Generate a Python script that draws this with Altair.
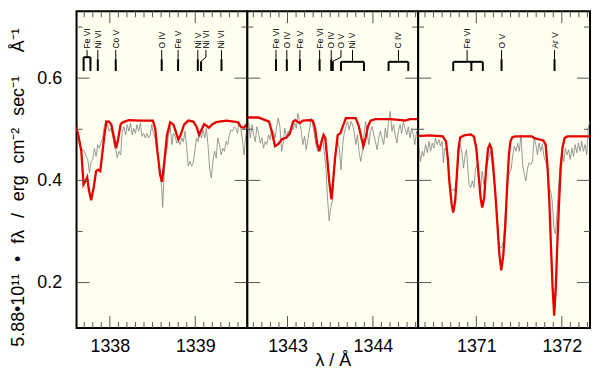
import math
import altair as alt
import pandas as pd

FONT = "Liberation Sans"
BG = "#FFFFF0"
RED = "#E60000"
GRAY = "#808080"
TICKC = "#555555"

Y_DOMAIN = [0.111, 0.731]
H = 319

# ---------------- observed spectrum (grey) ----------------
OBS1_WAVE = [1337.608, 1337.646, 1337.672, 1337.704, 1337.723, 1337.742, 1337.761, 1337.781, 1337.799, 1337.819,
             1337.839, 1337.857, 1337.877, 1337.896, 1337.915, 1337.934, 1337.954, 1337.972, 1337.992, 1338.012,
             1338.030, 1338.050, 1338.069, 1338.088, 1338.107, 1338.127, 1338.145, 1338.165, 1338.185, 1338.203,
             1338.223, 1338.242, 1338.261, 1338.280, 1338.300, 1338.318, 1338.338, 1338.358, 1338.376, 1338.396,
             1338.415, 1338.434, 1338.453, 1338.473, 1338.491, 1338.511, 1338.531, 1338.549, 1338.569, 1338.588,
             1338.607, 1338.618, 1338.630, 1338.649, 1338.669, 1338.687, 1338.707, 1338.727, 1338.745, 1338.765,
             1338.784, 1338.803, 1338.822, 1338.842, 1338.860, 1338.880, 1338.900, 1338.918, 1338.938, 1338.957,
             1338.976, 1338.995, 1339.015, 1339.033, 1339.053, 1339.073, 1339.091, 1339.111, 1339.130, 1339.149,
             1339.168, 1339.188, 1339.206, 1339.226, 1339.246, 1339.264, 1339.284, 1339.303, 1339.322, 1339.341,
             1339.361, 1339.379, 1339.399, 1339.419, 1339.437, 1339.457, 1339.476, 1339.495, 1339.514, 1339.534,
             1339.552, 1339.572, 1339.592, 1339.610]
OBS1_FLUX = [0.502, 0.470, 0.460, 0.457, 0.447, 0.441, 0.415, 0.437, 0.441, 0.463,
             0.447, 0.470, 0.463, 0.473, 0.483, 0.505, 0.518, 0.509, 0.496, 0.502,
             0.489, 0.470, 0.460, 0.444, 0.457, 0.450, 0.496, 0.505, 0.489, 0.509,
             0.496, 0.512, 0.489, 0.502, 0.492, 0.509, 0.496, 0.512, 0.486, 0.492,
             0.483, 0.492, 0.483, 0.489, 0.509, 0.492, 0.483, 0.457, 0.441, 0.412,
             0.386, 0.347, 0.392, 0.444, 0.463, 0.489, 0.505, 0.470, 0.492, 0.486,
             0.473, 0.476, 0.470, 0.483, 0.476, 0.496, 0.463, 0.428, 0.437, 0.428,
             0.434, 0.457, 0.483, 0.476, 0.496, 0.483, 0.499, 0.483, 0.502, 0.470,
             0.424, 0.405, 0.437, 0.457, 0.444, 0.483, 0.470, 0.450, 0.463, 0.457,
             0.476, 0.470, 0.489, 0.499, 0.496, 0.505, 0.502, 0.492, 0.515, 0.502,
             0.480, 0.450, 0.489, 0.502]

OBS2_WAVE = [1342.530, 1342.546, 1342.565, 1342.585, 1342.603, 1342.623, 1342.642, 1342.661, 1342.681, 1342.700,
             1342.719, 1342.738, 1342.758, 1342.776, 1342.796, 1342.815, 1342.834, 1342.854, 1342.873, 1342.892,
             1342.911, 1342.931, 1342.949, 1342.969, 1342.988, 1343.007, 1343.027, 1343.046, 1343.065, 1343.084,
             1343.104, 1343.122, 1343.142, 1343.161, 1343.180, 1343.200, 1343.219, 1343.238, 1343.257, 1343.277,
             1343.295, 1343.315, 1343.334, 1343.353, 1343.373, 1343.392, 1343.411, 1343.430, 1343.450, 1343.468,
             1343.488, 1343.507, 1343.526, 1343.542, 1343.569, 1343.588, 1343.607, 1343.626, 1343.646, 1343.664,
             1343.684, 1343.704, 1343.722, 1343.742, 1343.761, 1343.780, 1343.799, 1343.819, 1343.837, 1343.857,
             1343.877, 1343.895, 1343.915, 1343.934, 1343.953, 1343.972, 1343.992, 1344.010, 1344.030, 1344.050,
             1344.068, 1344.088, 1344.107, 1344.126, 1344.145, 1344.165, 1344.183, 1344.203, 1344.223, 1344.241,
             1344.261, 1344.280, 1344.299, 1344.318, 1344.338, 1344.356, 1344.376, 1344.396, 1344.414, 1344.434,
             1344.453, 1344.472, 1344.491, 1344.511, 1344.529]
OBS2_FLUX = [0.499, 0.512, 0.483, 0.509, 0.489, 0.476, 0.505, 0.492, 0.473, 0.483,
             0.463, 0.476, 0.470, 0.489, 0.480, 0.499, 0.496, 0.483, 0.505, 0.522,
             0.505, 0.457, 0.473, 0.502, 0.483, 0.496, 0.489, 0.505, 0.499, 0.512,
             0.502, 0.531, 0.515, 0.496, 0.470, 0.486, 0.460, 0.480, 0.499, 0.522,
             0.509, 0.489, 0.470, 0.457, 0.463, 0.476, 0.486, 0.457, 0.424, 0.366,
             0.321, 0.347, 0.360, 0.405, 0.457, 0.476, 0.463, 0.421, 0.470, 0.492,
             0.505, 0.515, 0.499, 0.515, 0.509, 0.496, 0.470, 0.489, 0.457, 0.437,
             0.457, 0.489, 0.515, 0.492, 0.470, 0.496, 0.505, 0.489, 0.476, 0.460,
             0.483, 0.496, 0.483, 0.470, 0.502, 0.483, 0.515, 0.535, 0.496, 0.509,
             0.489, 0.473, 0.496, 0.509, 0.492, 0.515, 0.502, 0.489, 0.505, 0.483,
             0.502, 0.489, 0.470, 0.496, 0.489]

OBS3_WAVE = [1370.331, 1370.346, 1370.369, 1370.384, 1370.407, 1370.427, 1370.446, 1370.465, 1370.484, 1370.504,
             1370.522, 1370.542, 1370.562, 1370.580, 1370.600, 1370.615, 1370.631, 1370.654, 1370.672, 1370.696,
             1370.723, 1370.746, 1370.769, 1370.792, 1370.811, 1370.830, 1370.850, 1370.869, 1370.885, 1370.900,
             1370.915, 1370.934, 1370.954, 1370.972, 1370.992, 1371.012, 1371.030, 1371.050, 1371.069, 1371.088,
             1371.107, 1371.127, 1371.145, 1371.165, 1371.185, 1371.203, 1371.223, 1371.242, 1371.261, 1371.280,
             1371.300, 1371.318, 1371.349, 1371.381, 1371.407, 1371.427, 1371.445, 1371.465, 1371.484, 1371.503,
             1371.522, 1371.542, 1371.561, 1371.580, 1371.600, 1371.618, 1371.638, 1371.657, 1371.676, 1371.696,
             1371.715, 1371.734, 1371.753, 1371.773, 1371.791, 1371.811, 1371.830, 1371.849, 1371.869, 1371.888,
             1371.907, 1371.926, 1371.946, 1371.964, 1371.984, 1372.003, 1372.022, 1372.042, 1372.061, 1372.080,
             1372.099, 1372.119, 1372.137, 1372.157, 1372.176, 1372.195, 1372.215, 1372.234, 1372.253, 1372.272,
             1372.292, 1372.310, 1372.326]
OBS3_FLUX = [0.463, 0.437, 0.457, 0.447, 0.470, 0.454, 0.476, 0.457, 0.473, 0.463,
             0.483, 0.470, 0.480, 0.467, 0.476, 0.434, 0.463, 0.457, 0.424, 0.379,
             0.383, 0.379, 0.405, 0.450, 0.470, 0.457, 0.424, 0.450, 0.460, 0.424,
             0.392, 0.386, 0.399, 0.386, 0.424, 0.431, 0.399, 0.386, 0.418, 0.392,
             0.405, 0.431, 0.444, 0.457, 0.431, 0.405, 0.379, 0.327, 0.282, 0.269,
             0.269, 0.282, 0.360, 0.412, 0.421, 0.450, 0.467, 0.457, 0.473, 0.457,
             0.489, 0.431, 0.412, 0.399, 0.424, 0.434, 0.431, 0.437, 0.483, 0.470,
             0.450, 0.473, 0.457, 0.470, 0.447, 0.437, 0.424, 0.386, 0.379, 0.360,
             0.308, 0.295, 0.340, 0.392, 0.437, 0.457, 0.437, 0.463, 0.450, 0.460,
             0.441, 0.463, 0.447, 0.470, 0.454, 0.473, 0.457, 0.476, 0.457, 0.470,
             0.450, 0.502, 0.515]

# ---------------- model spectrum (red) ----------------
MOD1_WAVE = [1337.608, 1337.635, 1337.666, 1337.692, 1337.715, 1337.735, 1337.753, 1337.781, 1337.811, 1337.839,
             1337.865, 1337.888, 1337.915, 1337.942, 1337.961, 1337.992, 1338.018, 1338.050, 1338.073, 1338.096,
             1338.127, 1338.157, 1338.223, 1338.358, 1338.503, 1338.531, 1338.557, 1338.588, 1338.611, 1338.638,
             1338.669, 1338.707, 1338.745, 1338.784, 1338.803, 1338.830, 1338.869, 1338.918, 1338.976, 1339.015,
             1339.045, 1339.073, 1339.103, 1339.130, 1339.160, 1339.200, 1339.246, 1339.361, 1339.495, 1339.534,
             1339.572, 1339.599, 1339.610]
MOD1_FLUX = [0.505, 0.485, 0.457, 0.392, 0.399, 0.406, 0.383, 0.361, 0.386, 0.418,
             0.421, 0.418, 0.457, 0.496, 0.515, 0.515, 0.509, 0.483, 0.463, 0.480,
             0.510, 0.514, 0.518, 0.517, 0.517, 0.502, 0.457, 0.412, 0.397, 0.437,
             0.489, 0.514, 0.509, 0.489, 0.480, 0.489, 0.509, 0.517, 0.515, 0.505,
             0.489, 0.499, 0.510, 0.507, 0.503, 0.510, 0.514, 0.517, 0.514, 0.505,
             0.503, 0.509, 0.510]

MOD2_WAVE = [1342.530, 1342.661, 1342.738, 1342.784, 1342.815, 1342.854, 1342.892, 1342.931, 1342.988, 1343.027,
             1343.065, 1343.092, 1343.142, 1343.180, 1343.257, 1343.295, 1343.323, 1343.346, 1343.373, 1343.399,
             1343.422, 1343.442, 1343.468, 1343.488, 1343.514, 1343.531, 1343.557, 1343.588, 1343.618, 1343.646,
             1343.684, 1343.799, 1343.837, 1343.865, 1343.888, 1343.915, 1343.941, 1343.972, 1344.030, 1344.203,
             1344.338, 1344.376, 1344.434, 1344.530]
MOD2_FLUX = [0.523, 0.523, 0.518, 0.515, 0.496, 0.467, 0.471, 0.480, 0.484, 0.492,
             0.515, 0.518, 0.512, 0.517, 0.518, 0.517, 0.502, 0.473, 0.457, 0.476,
             0.489, 0.483, 0.437, 0.399, 0.363, 0.392, 0.444, 0.489, 0.492, 0.505,
             0.522, 0.522, 0.505, 0.483, 0.467, 0.483, 0.505, 0.517, 0.520, 0.520,
             0.518, 0.517, 0.520, 0.520]

MOD3_WAVE = [1370.320, 1370.358, 1370.453, 1370.608, 1370.646, 1370.666, 1370.684, 1370.712, 1370.730, 1370.753,
             1370.773, 1370.792, 1370.811, 1370.857, 1370.934, 1370.972, 1371.000, 1371.023, 1371.050, 1371.069,
             1371.092, 1371.115, 1371.138, 1371.157, 1371.176, 1371.196, 1371.223, 1371.249, 1371.269, 1371.292,
             1371.315, 1371.338, 1371.361, 1371.381, 1371.399, 1371.419, 1371.457, 1371.649, 1371.687, 1371.784,
             1371.811, 1371.834, 1371.854, 1371.872, 1371.892, 1371.911, 1371.930, 1371.949, 1371.969, 1371.987,
             1372.007, 1372.033, 1372.065, 1372.330]
MOD3_FLUX = [0.487, 0.487, 0.488, 0.486, 0.476, 0.444, 0.399, 0.353, 0.337, 0.360,
             0.412, 0.463, 0.484, 0.488, 0.490, 0.486, 0.463, 0.418, 0.366, 0.347,
             0.366, 0.424, 0.463, 0.470, 0.463, 0.431, 0.373, 0.308, 0.256, 0.224,
             0.252, 0.308, 0.390, 0.450, 0.476, 0.484, 0.486, 0.486, 0.482, 0.478,
             0.470, 0.424, 0.360, 0.276, 0.191, 0.135, 0.191, 0.282, 0.360, 0.424,
             0.463, 0.483, 0.486, 0.486]

# ---------------- line identifications ----------------
P1_IDS = [
    {"label": "Fe VI", "at": 1337.733, "kind": "bracket", "legs": [1337.693, 1337.773], "bar": 0.641},
    {"label": "Ni VI", "at": 1337.859, "kind": "single"},
    {"label": "Co V", "at": 1338.069, "kind": "single"},
    {"label": "O IV", "at": 1338.607, "kind": "single"},
    {"label": "Fe V", "at": 1338.799, "kind": "single"},
    {"label": "Ni V", "at": 1339.030, "kind": "single"},
    {"label": "Ni VI", "at": 1339.125, "kind": "diag", "line": 1339.068},
    {"label": "Ni VI", "at": 1339.307, "kind": "single"},
]
P2_IDS = [
    {"label": "Fe VI", "at": 1342.865, "kind": "single"},
    {"label": "O IV", "at": 1342.992, "kind": "single"},
    {"label": "Fe V", "at": 1343.145, "kind": "single"},
    {"label": "Fe VI", "at": 1343.376, "kind": "single"},
    {"label": "O IV", "at": 1343.512, "kind": "single"},
    {"label": "O V", "at": 1343.626, "kind": "diag", "line": 1343.530},
    {"label": "Ni V", "at": 1343.761, "kind": "bracket", "legs": [1343.626, 1343.895], "bar": 0.632},
    {"label": "C IV", "at": 1344.299, "kind": "bracket", "legs": [1344.183, 1344.414], "bar": 0.632},
]
P3_IDS = [
    {"label": "Fe VI", "at": 1370.892, "kind": "bracket", "legs": [1370.730, 1370.942, 1371.076], "bar": 0.632},
    {"label": "O V", "at": 1371.295, "kind": "single"},
    {"label": "Ar V", "at": 1371.915, "kind": "single"},
]

Y_TXT = 0.658
Y_TOP = 0.655
Y_MID = 0.637
Y_DIAG = 0.641
Y_END = 0.614

PANELS = [
    {"domain": [1337.61, 1339.61], "width": 172, "majors": [1338, 1339],
     "obs": (OBS1_WAVE, OBS1_FLUX), "mod": (MOD1_WAVE, MOD1_FLUX), "ids": P1_IDS},
    {"domain": [1342.53, 1344.53], "width": 172, "majors": [1343, 1344],
     "obs": (OBS2_WAVE, OBS2_FLUX), "mod": (MOD2_WAVE, MOD2_FLUX), "ids": P2_IDS},
    {"domain": [1370.32, 1372.33], "width": 173, "majors": [1371, 1372],
     "obs": (OBS3_WAVE, OBS3_FLUX), "mod": (MOD3_WAVE, MOD3_FLUX), "ids": P3_IDS},
]

Y_MAJOR = [0.2, 0.4, 0.6]
Y_MINOR = [0.3, 0.5, 0.7]

SP = "\u2002\u2006"
YTITLE = ("5.88\u202210\u00b9\u00b9" + SP + "\u2022" + SP + "f\u03bb" + SP + "/" + SP + "erg" + SP
          + "cm\u207b\u00b2" + SP + "sec\u207b\u00b9" + SP + SP + "\u00c5\u207b\u00b9")
XTITLE = "\u03bb / \u00c5"


def minor_ticks(lo, hi):
    return [k / 10 for k in range(math.ceil(lo * 10), math.floor(hi * 10) + 1) if k % 10 != 0]


def segments(ids):
    thin, thick = [], []
    for m in ids:
        at = m["at"]
        if m["kind"] == "single":
            thin.append((at, at, Y_TOP, Y_MID))
            thick.append((at, at, Y_MID, Y_END))
        elif m["kind"] == "bracket":
            bar = m["bar"]
            legs = m["legs"]
            thin.append((at, at, Y_TOP, bar))
            thick.append((min(legs), max(legs), bar, bar))
            for l in legs:
                thick.append((l, l, bar, Y_END))
        else:
            line = m["line"]
            thin.append((at, at, Y_TOP, Y_DIAG))
            thin.append((at, line, Y_DIAG, Y_MID - 0.004))
            thick.append((line, line, Y_MID - 0.004, Y_END))
    cols = ["a", "b", "y1", "y2"]
    return pd.DataFrame(thin, columns=cols), pd.DataFrame(thick, columns=cols)


def panel(i):
    p = PANELS[i]
    W = p["width"]
    xs = alt.Scale(domain=p["domain"], nice=False, zero=False)
    ys = alt.Scale(domain=Y_DOMAIN, nice=False, zero=False)

    xaxis_kw = dict(values=p["majors"], format="d", ticks=False, domain=False, grid=False,
                    labelFontSize=18, labelPadding=10, labelColor="black", labelFont=FONT)
    if i == 1:
        xaxis = alt.Axis(title=XTITLE, titleFontSize=18, titleFont=FONT, titleFontWeight="normal",
                         titleColor="black", titleY=38, titleBaseline="alphabetic", **xaxis_kw)
    else:
        xaxis = alt.Axis(title=None, **xaxis_kw)
    if i == 0:
        yaxis = alt.Axis(values=Y_MAJOR, format=".1f", ticks=False, domain=False, grid=False,
                         labelFontSize=18, labelPadding=15, labelColor="black", labelFont=FONT,
                         title=YTITLE, titleFontSize=18, titleFont=FONT, titleFontWeight="normal",
                         titleColor="black", titleAngle=270, titleX=-58, titleY=177,
                         titleAlign="center", titleBaseline="middle")
    else:
        yaxis = None

    def X(field):
        return alt.X(field, scale=xs, axis=xaxis)

    def Y(field):
        return alt.Y(field, scale=ys, axis=yaxis)

    obs = pd.DataFrame({"lam": p["obs"][0], "flux": p["obs"][1]})
    mod = pd.DataFrame({"lam": p["mod"][0], "flux": p["mod"][1]})

    layers = [
        alt.Chart(obs).mark_line(color=GRAY, strokeWidth=0.8, clip=True).encode(x=X("lam:Q"), y=Y("flux:Q")),
        alt.Chart(mod).mark_line(color=RED, strokeWidth=2.3, clip=True).encode(x=X("lam:Q"), y=Y("flux:Q")),
    ]

    xmaj = pd.DataFrame({"t": p["majors"]})
    xmin = pd.DataFrame({"t": minor_ticks(*p["domain"])})
    for df, ln in ((xmaj, 12), (xmin, 6)):
        base = alt.Chart(df).mark_rule(color=TICKC, strokeWidth=1)
        layers.append(base.encode(x=X("t:Q"), y=alt.value(H), y2=alt.value(H - ln)))
        layers.append(base.encode(x=X("t:Q"), y=alt.value(0), y2=alt.value(ln)))
    ymaj = pd.DataFrame({"v": Y_MAJOR})
    ymin = pd.DataFrame({"v": Y_MINOR})
    for df, ln in ((ymaj, 13), (ymin, 6)):
        base = alt.Chart(df).mark_rule(color=TICKC, strokeWidth=1)
        layers.append(base.encode(y=Y("v:Q"), x=alt.value(0), x2=alt.value(ln)))
        layers.append(base.encode(y=Y("v:Q"), x=alt.value(W), x2=alt.value(W - ln)))

    thin, thick = segments(p["ids"])
    for df, sw in ((thin, 1), (thick, 2)):
        layers.append(alt.Chart(df).mark_rule(color="black", strokeWidth=sw).encode(
            x=X("a:Q"), x2="b:Q", y=Y("y1:Q"), y2="y2:Q"))

    lab = pd.DataFrame({"lam": [m["at"] for m in p["ids"]],
                        "y": [Y_TXT] * len(p["ids"]),
                        "txt": [m["label"] for m in p["ids"]]})
    layers.append(alt.Chart(lab).mark_text(angle=270, align="left", baseline="middle",
                                           fontSize=8.5, font=FONT, color="black").encode(
        x=X("lam:Q"), y=Y("y:Q"), text="txt:N"))

    return alt.layer(*layers).properties(width=W, height=H)


chart = alt.hconcat(panel(0), panel(1), panel(2), spacing=0, bounds="flush").properties(
    padding={"left": 0, "top": 0, "right": 0, "bottom": 0},
    background="white",
).configure_view(stroke="black", strokeWidth=2, fill=BG)

chart.save("out.html", embed_options={"renderer": "svg", "actions": False})
